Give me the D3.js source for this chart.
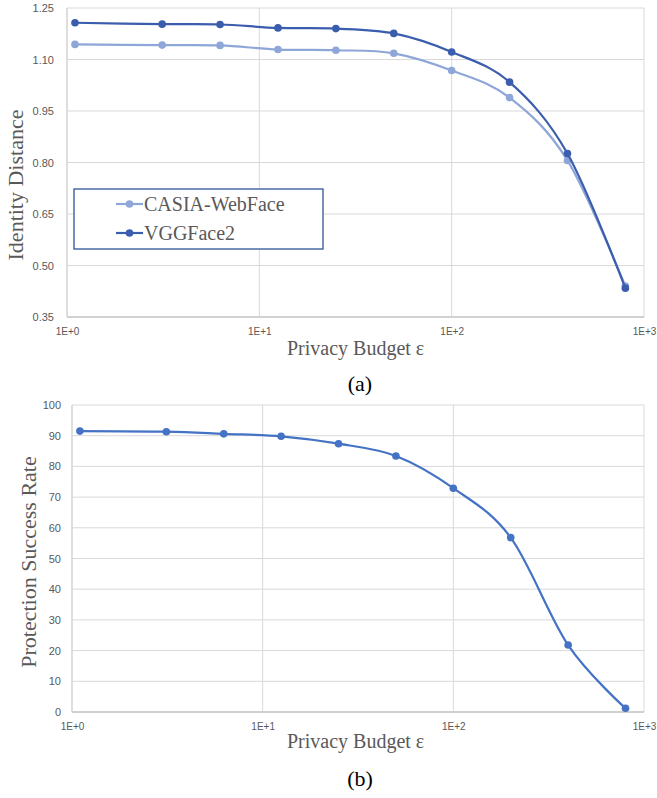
<!DOCTYPE html>
<html>
<head>
<meta charset="utf-8">
<script src="https://cdn.jsdelivr.net/npm/d3@7"></script>
<style>
  body { margin: 0; background: #fff; }
  .tick text { font-family: "Liberation Sans", Arial, sans-serif; fill: #595959; }
  .title { font-family: "Liberation Serif", "Times New Roman", serif; fill: #595959; }
  .caption { font-family: "Liberation Serif", "Times New Roman", serif; fill: #000; }
</style>
</head>
<body>
<svg width="657" height="798"></svg>
<script>
// privacy budget values (x axis, log scale)
const epsilon = [1.1, 3.125, 6.25, 12.5, 25, 50, 100, 200, 400, 800];

// (a) identity distance
const casia = [1.144, 1.142, 1.141, 1.129, 1.127, 1.118, 1.068, 0.989, 0.806, 0.440];
const vgg   = [1.207, 1.203, 1.202, 1.192, 1.190, 1.176, 1.122, 1.034, 0.826, 0.434];
const distTicks = [0.35, 0.50, 0.65, 0.80, 0.95, 1.10, 1.25];

// (b) protection success rate
const successRate = [91.5, 91.3, 90.6, 89.8, 87.4, 83.4, 72.9, 56.8, 21.8, 1.2];
const rateTicks = [0, 10, 20, 30, 40, 50, 60, 70, 80, 90, 100];

const xTicks = [1, 10, 100, 1000];
const xTickLabels = ["1E+0", "1E+1", "1E+2", "1E+3"];

const svg = d3.select("svg");
const gridColor = "#d9d9d9";

function drawPanel(opt) {
  const g = svg.append("g");
  const x = d3.scaleLog().domain([1, 1000]).range([opt.left, opt.right]);
  const y = d3.scaleLinear().domain(opt.yDomain).range([opt.bottom, opt.top]);

  // horizontal gridlines
  g.selectAll("line.hgrid")
    .data(opt.yTicks)
    .enter().append("line")
    .attr("x1", opt.left).attr("x2", opt.right)
    .attr("y1", d => y(d)).attr("y2", d => y(d))
    .attr("stroke", gridColor).attr("stroke-width", 1);

  // vertical gridlines
  g.selectAll("line.vgrid")
    .data(xTicks)
    .enter().append("line")
    .attr("x1", d => x(d)).attr("x2", d => x(d))
    .attr("y1", opt.top).attr("y2", opt.bottom)
    .attr("stroke", gridColor).attr("stroke-width", 1);

  // y axis labels
  const yAxis = d3.axisLeft(y).tickValues(opt.yTicks).tickFormat(opt.yFormat).tickSize(0).tickPadding(opt.yPad);
  g.append("g").attr("transform", `translate(${opt.left},0)`).call(yAxis)
    .call(a => a.select(".domain").remove())
    .selectAll("text").style("font-size", "11px");

  // x axis labels
  const xAxis = d3.axisBottom(x).tickValues(xTicks).tickFormat((d, i) => xTickLabels[i]).tickSize(0).tickPadding(11);
  g.append("g").attr("transform", `translate(0,${opt.bottom})`).call(xAxis)
    .call(a => a.select(".domain").remove())
    .selectAll("text").style("font-size", "10px");

  // axis lines
  g.append("line").attr("x1", opt.left).attr("x2", opt.right)
    .attr("y1", opt.bottom).attr("y2", opt.bottom)
    .attr("stroke", "#c8c8c8").attr("stroke-width", 1.5);
  g.append("line").attr("x1", opt.left).attr("x2", opt.left)
    .attr("y1", opt.top).attr("y2", opt.bottom)
    .attr("stroke", "#d0d0d0").attr("stroke-width", 1);

  const line = d3.line()
    .x(d => x(d[0]))
    .y(d => y(d[1]))
    .curve(d3.curveCardinal.tension(0));

  opt.series.forEach(s => {
    const pts = epsilon.map((e, i) => [e, s.values[i]]);
    g.append("path").datum(pts)
      .attr("d", line)
      .attr("fill", "none")
      .attr("stroke", s.color)
      .attr("stroke-width", 2.2);
    g.selectAll(null).data(pts).enter().append("circle")
      .attr("cx", d => x(d[0])).attr("cy", d => y(d[1]))
      .attr("r", 3.8).attr("fill", s.color);
  });

  // axis titles
  g.append("text").attr("class", "title")
    .attr("x", 287).attr("y", opt.xTitleY)
    .style("font-size", "20px")
    .text("Privacy Budget ε");
  g.append("text").attr("class", "title")
    .attr("transform", `translate(${opt.yTitleX},${opt.yTitleY}) rotate(-90)`)
    .attr("text-anchor", "middle")
    .style("font-size", "22px")
    .text(opt.yTitle);

  g.append("text").attr("class", "caption")
    .attr("x", 360).attr("y", opt.captionY)
    .attr("text-anchor", "middle")
    .style("font-size", "22px")
    .text(opt.caption);

  return { g, x, y };
}

const darkBlue = "#3b5dad";
const lightBlue = "#8ea6d8";

drawPanel({
  left: 67, right: 644, top: 8, bottom: 317,
  yDomain: [0.35, 1.25], yTicks: distTicks, yFormat: d3.format(".2f"), yPad: 13,
  series: [
    { name: "CASIA-WebFace", values: casia, color: lightBlue },
    { name: "VGGFace2", values: vgg, color: darkBlue }
  ],
  xTitleY: 355, yTitle: "Identity Distance", yTitleX: 23, yTitleY: 185,
  caption: "(a)", captionY: 391
});

drawPanel({
  left: 72, right: 644, top: 405, bottom: 712,
  yDomain: [0, 100], yTicks: rateTicks, yFormat: d3.format("d"), yPad: 11,
  series: [
    { name: "Protection Success Rate", values: successRate, color: "#4472c4" }
  ],
  xTitleY: 748, yTitle: "Protection Success Rate", yTitleX: 36, yTitleY: 562,
  caption: "(b)", captionY: 786
});

// legend for (a)
const legendItems = [
  { name: "CASIA-WebFace", color: lightBlue },
  { name: "VGGFace2", color: darkBlue }
];
const legend = svg.append("g");
legend.append("rect")
  .attr("x", 74).attr("y", 189).attr("width", 249).attr("height", 60)
  .attr("fill", "#fff").attr("stroke", "#2f5597").attr("stroke-width", 1.3);
const row = legend.selectAll("g.row").data(legendItems).enter().append("g")
  .attr("transform", (d, i) => `translate(0,${204 + i * 29})`);
row.append("line").attr("x1", 116).attr("x2", 143).attr("y1", 0).attr("y2", 0)
  .attr("stroke", d => d.color).attr("stroke-width", 2.2);
row.append("circle").attr("cx", 129.5).attr("cy", 0).attr("r", 3.8).attr("fill", d => d.color);
row.append("text").attr("class", "title")
  .attr("x", 144).attr("y", 7)
  .style("font-size", "20px")
  .text(d => d.name);
</script>
</body>
</html>
